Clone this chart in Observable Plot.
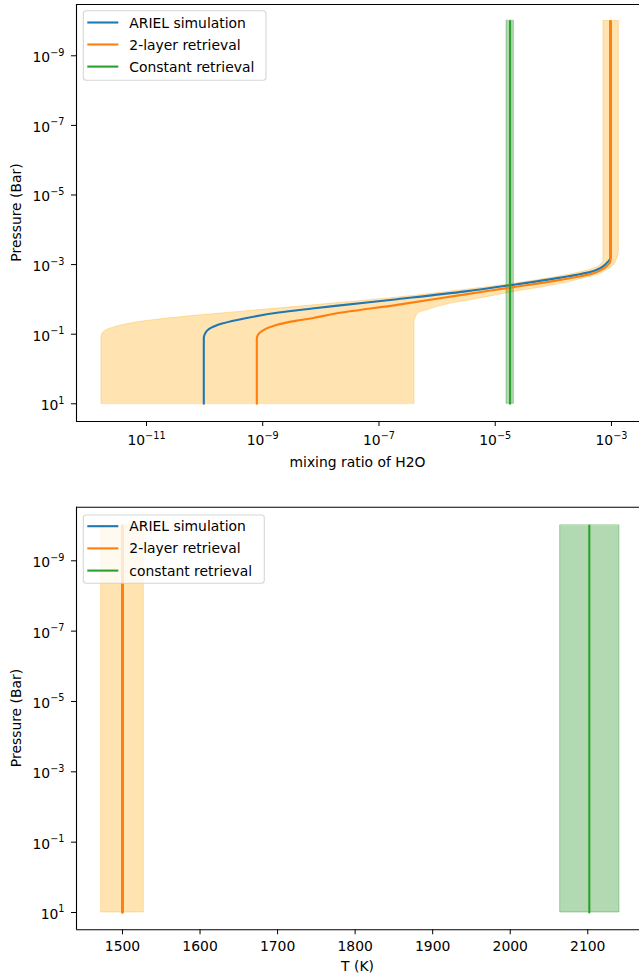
<!DOCTYPE html>
<html><head><meta charset="utf-8">
<script src="https://cdn.jsdelivr.net/npm/d3@7"></script>
<script src="https://cdn.jsdelivr.net/npm/@observablehq/plot@0.6"></script>
<style>
body{margin:0;background:#fff;}
#chart svg{display:block;}
</style></head><body><div id="chart"></div>
<script>
// ---------- Data (log10 values) ----------
// Top panel: H2O mixing ratio vs pressure
const arielLogP = [1, -0.894, -1.009, -1.144, -1.305, -1.460, -1.621, -1.736, -1.813, -2.006, -2.230, -2.408, -2.626, -2.819, -3.057, -3.201, -10];
const arielLogX = [-10.014, -10.014, -9.994, -9.928, -9.698, -9.297, -8.724, -8.149, -7.748, -6.687, -5.512, -4.738, -3.877, -3.305, -3.074, -3.017, -3.017];

const twoLayerLogP = [1, -0.865, -0.980, -1.095, -1.259, -1.382, -1.460, -1.592, -1.842, -2.144, -2.339, -2.560, -2.753, -3.011, -3.135, -10];
const twoLayerLogX = [-9.102, -9.102, -9.082, -9.009, -8.781, -8.437, -8.149, -7.748, -6.687, -5.512, -4.738, -3.877, -3.305, -3.047, -3.017, -3.017];

const bandLogP     = [1, -0.9, -1.05, -1.2, -1.35, -1.5, -1.6, -1.7, -1.8, -1.9, -2.0, -2.1, -2.2, -2.3, -2.4, -2.5, -2.6, -2.7, -2.8, -2.9, -3.0, -3.1, -3.2, -3.4, -10];
const bandLowLogX  = [-11.774, -11.774, -11.74, -11.546, -11.113, -10.332, -9.663, -9.0, -8.32, -7.65, -7.0, -6.41, -5.89, -5.38, -4.89, -4.473, -4.09, -3.753, -3.477, -3.27, -3.182, -3.138, -3.138, -3.138, -3.138];
const bandHighLogX = [-6.389, -6.389, -6.389, -6.389, -6.389, -6.36, -6.325, -6.149, -5.951, -5.695, -5.353, -5.038, -4.72, -4.364, -4.009, -3.726, -3.486, -3.247, -3.116, -3.02, -2.949, -2.92, -2.895, -2.874, -2.874];

const constLogX = -4.745;        // constant retrieval
const constLowLogX = -4.806;
const constHighLogX = -4.68;
const profileLogP = [-10, 1];   // full pressure extent

// Bottom panel: temperature
const tempAriel = 1500;
const tempTwoLayer = 1500, tempTwoLayerLo = 1472.5, tempTwoLayerHi = 1527.5;
const tempConst = 2102, tempConstLo = 2064.4, tempConstHi = 2140.9;

// Ticks and labels
const yTickExp = [-9, -7, -5, -3, -1, 1];
const xTickExpTop = [-11, -9, -7, -5, -3];
const tempTicks = [1500, 1600, 1700, 1800, 1900, 2000, 2100];
const legendTop = ["ARIEL simulation", "2-layer retrieval", "Constant retrieval"];
const legendBottom = ["ARIEL simulation", "2-layer retrieval", "constant retrieval"];
const colors = ["#1f77b4", "#ff7f0e", "#2ca02c"];

// ---------- Build ----------
const line = (lp, lx) => lp.map((p, i) => ({p: 10 ** p, x: 10 ** lx[i]}));
const arielRows = line(arielLogP, arielLogX);
const twoRows = line(twoLayerLogP, twoLayerLogX);
const bandRows = bandLogP.map((p, i) => ({p: 10 ** p, lo: 10 ** bandLowLogX[i], hi: 10 ** bandHighLogX[i]}));
const constRows = profileLogP.map(p => ({p: 10 ** p, x: 10 ** constLogX, lo: 10 ** constLowLogX, hi: 10 ** constHighLogX}));
const tRows = profileLogP.map(p => ({p: 10 ** p}));

const fmtExp = d => "10^" + Math.round(Math.log10(d));
const font = {fontFamily: "DejaVu Sans", fontSize: "13.9px", color: "black", background: "white", overflow: "visible"};

const yTop = [10 ** 1.509, 10 ** -10.474];
const xTop = [10 ** -12.204, 10 ** -2.518];

const topPlot = Plot.plot({
  width: 639, height: 480,
  marginTop: 4, marginBottom: 59, marginLeft: 76, marginRight: 0,
  style: font,
  x: {type: "log", domain: xTop},
  y: {type: "log", domain: yTop},
  marks: [
    Plot.areaX(bandRows, {y: "p", x1: "lo", x2: "hi", fill: "#ffa500", fillOpacity: 0.3, stroke: "#ffa500", strokeOpacity: 0.3, strokeWidth: 1, curve: "monotone-y"}),
    Plot.areaX(constRows, {y: "p", x1: "lo", x2: "hi", fill: "#008000", fillOpacity: 0.3, stroke: "#008000", strokeOpacity: 0.3, strokeWidth: 1}),
    Plot.line(arielRows, {x: "x", y: "p", stroke: colors[0], strokeWidth: 2.1, curve: "monotone-y"}),
    Plot.line(twoRows, {x: "x", y: "p", stroke: colors[1], strokeWidth: 2.1, curve: "monotone-y"}),
    Plot.line(constRows, {x: "x", y: "p", stroke: colors[2], strokeWidth: 2.1}),
    Plot.ruleX([xTop[0]], {stroke: "black", strokeWidth: 1.1}),
    Plot.ruleY(yTop, {stroke: "black", strokeWidth: 1.1}),
    Plot.axisX({ticks: xTickExpTop.map(e => 10 ** e), tickFormat: fmtExp, tickSize: 5, tickPadding: 9, label: null}),
    Plot.axisY({ticks: yTickExp.map(e => 10 ** e), tickFormat: fmtExp, tickSize: 5, tickPadding: 7, label: null})
  ]
});

const yBot = [10 ** 1.492, 10 ** -10.524];
const xBot = [1440.7, 2166.7];

const botPlot = Plot.plot({
  width: 639, height: 494,
  marginTop: 26.7, marginBottom: 44.7, marginLeft: 76, marginRight: 0,
  style: font,
  x: {type: "linear", domain: xBot},
  y: {type: "log", domain: yBot},
  marks: [
    Plot.areaX(tRows, {y: "p", x1: () => tempTwoLayerLo, x2: () => tempTwoLayerHi, fill: "#ffa500", fillOpacity: 0.3, stroke: "#ffa500", strokeOpacity: 0.3, strokeWidth: 1}),
    Plot.areaX(tRows, {y: "p", x1: () => tempConstLo, x2: () => tempConstHi, fill: "#008000", fillOpacity: 0.3, stroke: "#008000", strokeOpacity: 0.3, strokeWidth: 1}),
    Plot.line(tRows, {x: () => tempAriel, y: "p", stroke: colors[0], strokeWidth: 2.1}),
    Plot.line(tRows, {x: () => tempTwoLayer, y: "p", stroke: colors[1], strokeWidth: 2.1}),
    Plot.line(tRows, {x: () => tempConst, y: "p", stroke: colors[2], strokeWidth: 2.1}),
    Plot.ruleX([xBot[0]], {stroke: "black", strokeWidth: 1.1}),
    Plot.ruleY(yBot, {stroke: "black", strokeWidth: 1.1}),
    Plot.axisX({ticks: tempTicks, tickFormat: d => String(d), tickSize: 5, tickPadding: 6, label: null}),
    Plot.axisY({ticks: yTickExp.map(e => 10 ** e), tickFormat: fmtExp, tickSize: 5, tickPadding: 7, label: null})
  ]
});

function superscripts(svg) {
  d3.select(svg).selectAll("text").each(function () {
    const m = /^10\^(-?\d+)$/.exec(this.textContent);
    if (!m) return;
    const el = d3.select(this);
    el.text(null);
    el.append("tspan").text("10");
    el.append("tspan").attr("dy", "-6.5").attr("font-size", "9.7px").text(m[1].replace("-", "\u2212"));
  });
  d3.select(svg).selectAll('g[aria-label="y-axis tick label"] text').each(function () {
    const el = d3.select(this);
    const t = el.attr("transform") || "";
    el.attr("transform", t + " translate(0,2)");
  });
}

function addText(svg, xLabel, xLabelY, yLabelX, yLabelY) {
  const s = d3.select(svg);
  s.append("text").attr("x", 357.5).attr("y", xLabelY).attr("text-anchor", "middle")
    .attr("fill", "black").attr("font-size", "13.9px").text(xLabel);
  s.append("text").attr("transform", `translate(${yLabelX},${yLabelY}) rotate(-90)`).attr("text-anchor", "middle")
    .attr("fill", "black").attr("font-size", "13.9px").text("Pressure (Bar)");
}

function addLegend(svg, x0, y0, w, h, rowYs, labels) {
  const g = d3.select(svg).append("g");
  g.append("rect").attr("x", x0).attr("y", y0).attr("width", w).attr("height", h).attr("rx", 3)
    .attr("fill", "white").attr("fill-opacity", 0.8).attr("stroke", "#cccccc").attr("stroke-opacity", 0.8).attr("stroke-width", 1.1);
  labels.forEach((lab, i) => {
    g.append("line").attr("x1", x0 + 4).attr("x2", x0 + 35).attr("y1", rowYs[i]).attr("y2", rowYs[i])
      .attr("stroke", colors[i]).attr("stroke-width", 2.1);
    g.append("text").attr("x", x0 + 46).attr("y", rowYs[i]).attr("dy", "0.36em").attr("fill", "black")
      .attr("text-anchor", "start").attr("font-size", "13.9px").text(lab);
  });
}

superscripts(topPlot);
superscripts(botPlot);
addText(topPlot, "mixing ratio of H2O", 467, 20.8, 212.5);
addText(botPlot, "T (K)", 491.4, 20.8, 238);
addLegend(topPlot, 83.3, 10.7, 182.7, 69.6, [22.5, 44.5, 66.6], legendTop);
addLegend(botPlot, 83.3, 35, 181, 68.3, [46.2, 68.4, 90.6], legendBottom);

document.getElementById("chart").append(topPlot, botPlot);
</script></body></html>
